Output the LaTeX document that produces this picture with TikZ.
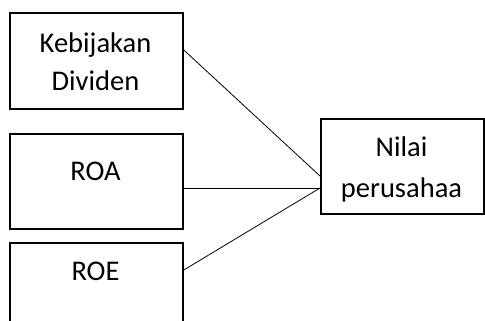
\documentclass[tikz,border=0pt]{standalone}
\usepackage{fontspec}
\setmainfont{Carlito}
\usetikzlibrary{calc}
\begin{document}
\begin{tikzpicture}[x=1pt,y=-1pt,
  box/.style={draw, line width=1.8pt, inner sep=0pt, anchor=north west},
  lbl/.style={font=\fontsize{28.5}{38}\selectfont, inner sep=0pt, anchor=base},
  conn/.style={line width=0.8pt}]
\useasboundingbox (0,0) rectangle (485,321);
\clip (0,0) rectangle (485,321);
% boxes
\node[box, minimum width=173pt, minimum height=96pt] (kd) at (9,12) {};
\node[box, minimum width=173pt, minimum height=95pt] (roa) at (9,133) {};
\node[box, minimum width=173pt, minimum height=120pt] (roe) at (9,242) {};
\node[box, minimum width=163pt, minimum height=95pt] (nv) at (320,118) {};
% texts
\node[lbl] (kdt1) at (95.5,53) {Kebijakan};
\node[lbl] (kdt2) at (95.5,91) {Dividen};
\node[lbl] (roat) at (95.5,180) {ROA};
\node[lbl] (roet) at (95.5,280) {ROE};
\node[lbl] (nvt1) at (401.5,157) {Nilai};
\node[lbl] (nvt2) at (401.5,197) {perusahaa};
% connectors
\draw[conn] ($(kd.north east)+(0,38)$) -- ($(nv.north west)+(0,58)$);
\draw[conn] ($(roa.north east)+(0,55)$) -- ($(nv.north west)+(0,70)$);
\draw[conn] ($(roe.north east)+(0,28)$) -- ($(nv.north west)+(0,70)$);
\end{tikzpicture}
\end{document}
